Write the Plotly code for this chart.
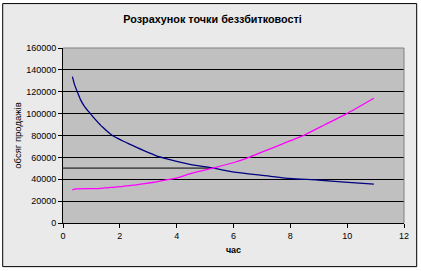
import plotly.graph_objects as go

# data
cost_x = [0.33, 0.41, 0.51, 0.62, 0.76, 0.97, 1.15, 1.39, 1.74, 2.09, 2.44, 2.91, 3.26, 3.76, 4.11,
          4.46, 5.28, 6.10, 7.04, 7.98, 8.97, 9.91, 10.94]
cost = [133900, 126300, 119600, 112600, 106500, 99800, 94300, 87700, 80000, 75200, 70900, 65400,
        61700, 57900, 55600, 53600, 50200, 46200, 43500, 40700, 39300, 37400, 35600]
rev_x = [0.33, 0.45, 1.2, 1.7, 2.11, 2.52, 2.87, 3.29, 3.75, 4.11, 4.46, 5.28, 6.10, 6.57, 7.27,
         7.98, 8.51, 9.21, 9.97, 10.94]
revenue = [30300, 31100, 31500, 32500, 33400, 34700, 35900, 37700, 39800, 42000, 45000, 50200,
           56000, 60300, 67600, 75000, 80600, 89800, 99800, 114100]
be_x = [0, 5.28]
be_y = [50200, 50200]

x_ticks = [0, 2, 4, 6, 8, 10, 12]
y_ticks = [0, 20000, 40000, 60000, 80000, 100000, 120000, 140000, 160000]

W, H = 421, 271
L, R, T, B = 63.3, 16.7, 48, 47.7
pw, ph = W - L - R, H - T - B

def px(v):
    return (v - L) / pw

def py(v):
    return (H - B - v) / ph

fig = go.Figure()
fig.add_trace(go.Scatter(x=be_x, y=be_y, mode="lines", line=dict(color="#000000", width=1),
                         showlegend=False, hoverinfo="skip"))
fig.add_trace(go.Scatter(x=cost_x, y=cost, mode="lines", line=dict(color="#000080", width=1.3, shape="spline", smoothing=0.6),
                         showlegend=False))
fig.add_trace(go.Scatter(x=rev_x, y=revenue, mode="lines", line=dict(color="#FF00FF", width=1.3, shape="spline", smoothing=0.6),
                         showlegend=False))

font = "Arial, Liberation Sans, sans-serif"
fig.update_layout(
    width=W, height=H,
    margin=dict(l=L, r=R, t=T, b=B, pad=0),
    paper_bgcolor="white",
    plot_bgcolor="#C0C0C0",
    font=dict(family=font, size=9, color="black"),
    title=dict(text="<b>Розрахунок точки беззбитковості</b>", x=0.505, xanchor="center",
               y=1 - 19 / H, yanchor="middle", font=dict(size=10.8, family=font, color="black")),
    xaxis=dict(range=[0, 12], tickvals=x_ticks, ticktext=[str(v) for v in x_ticks],
               showgrid=False, zeroline=False, showline=True, linecolor="black", linewidth=1,
               ticks="outside", ticklen=4, tickcolor="black",
               title=dict(text="<b>час</b>", font=dict(size=9), standoff=6)),
    yaxis=dict(range=[0, 160000], tickvals=y_ticks, ticktext=[str(v) for v in y_ticks],
               showgrid=True, gridcolor="black", gridwidth=1, zeroline=False,
               showline=True, linecolor="black", linewidth=1,
               ticks="outside", ticklen=4, tickcolor="black",
               title=dict(text="обсяг продажів", font=dict(size=9.5), standoff=2)),
    shapes=[
        dict(type="rect", xref="paper", yref="paper", x0=px(3), x1=px(417), y0=py(267), y1=py(3.5),
             fillcolor="#EAEAEA", line=dict(color="black", width=1), layer="below"),
        dict(type="rect", xref="paper", yref="paper", x0=0, x1=1, y0=0, y1=1,
             fillcolor="#C0C0C0", line=dict(width=0), layer="below"),
        dict(type="path", xref="paper", yref="paper", path="M 0,1 L 1,1 L 1,0",
             line=dict(color="#808080", width=1), layer="above"),
    ],
)

fig.write_html("out.html")
